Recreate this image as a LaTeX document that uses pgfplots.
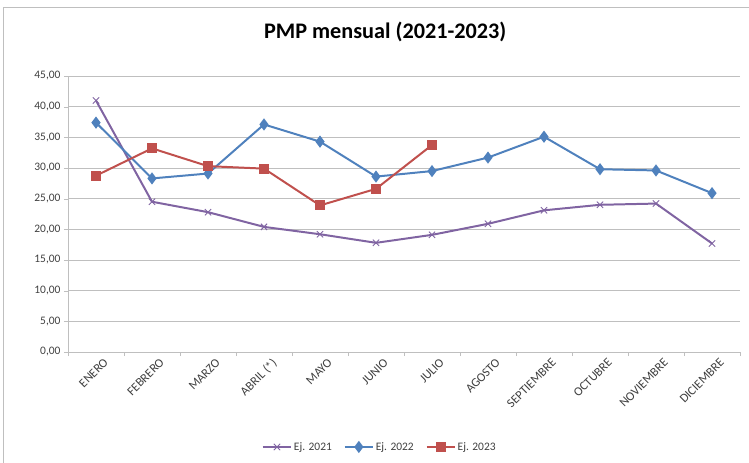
\documentclass[border=0pt]{standalone}
\usepackage{pgfplots}
\pgfplotsset{compat=1.18}
\usepackage{fontspec}
\setmainfont{Carlito}
\definecolor{c21}{HTML}{8064A2}
\definecolor{c22}{HTML}{4F81BD}
\definecolor{c23}{HTML}{C0504D}
\definecolor{gridc}{HTML}{BFBFBF}
\definecolor{txt}{HTML}{404040}
\begin{document}
\begin{tikzpicture}
\useasboundingbox (-68bp,-111bp) rectangle (681bp,352bp);
\draw[gridc] (-65bp,-111bp) -- (-65bp,345bp) -- (681bp,345bp);
\begin{axis}[
  at={(0,0)}, anchor=south west,
  scale only axis, width=672bp, height=276bp,
  xmin=-0.5, xmax=11.5, ymin=0, ymax=45,
  xtick={0,...,11},
  xticklabels={ENERO,FEBRERO,MARZO,ABRIL (*),MAYO,JUNIO,JULIO,AGOSTO,SEPTIEMBRE,OCTUBRE,NOVIEMBRE,DICIEMBRE},
  minor xtick={-0.5,0.5,...,11.5},
  ytick={0,5,...,45},
  axis x line*=bottom, axis y line*=left,
  axis line style={gridc,-},
  major x tick style={draw=none},
  minor x tick style={gridc},
  y tick style={gridc},
  tick align=outside,
  minor tick length=4bp, major tick length=4bp,
  ymajorgrids, major grid style={gridc, line width=0.8pt},
  x tick label style={rotate=45, anchor=north east, font=\fontsize{12.5}{14}\selectfont, text=txt, inner sep=1pt, yshift=-5bp, xshift=5bp},
  y tick label style={font=\fontsize{11.5}{13}\selectfont, text=txt},
  /pgf/number format/assume math mode=true,
  yticklabel={\pgfmathprintnumber[fixed,fixed zerofill,precision=2,use comma]{\tick}},
  title={\bfseries PMP mensual (2021-2023)},
  title style={at={(0.472,1)}, anchor=center, yshift=38bp, font=\fontsize{22.3}{26}\selectfont, text=black},
  legend columns=3,
  legend style={draw=none, at={(0.464,-0.344)}, anchor=center, font=\fontsize{11.5}{13}\selectfont, text=txt, /tikz/every even column/.append style={column sep=10bp}},
  legend image code/.code={\draw[#1] (0bp,0bp) -- (28bp,0bp); \draw[#1, mark repeat=2, mark phase=2] plot coordinates {(0bp,0bp) (14bp,0bp) (28bp,0bp)};},
]
\addplot[c21, line width=2pt, mark=x, mark size=4.5pt, mark options={line width=0.9pt}] coordinates {
(0,41.0) (1,24.5) (2,22.8) (3,20.4) (4,19.2) (5,17.8) (6,19.1) (7,20.9) (8,23.1) (9,24.0) (10,24.2) (11,17.7)};
\addlegendentry{Ej. 2021}
\addplot[c22, line width=2pt, mark=diamond*, mark size=4.5pt] coordinates {
(0,37.4) (1,28.3) (2,29.1) (3,37.1) (4,34.3) (5,28.6) (6,29.5) (7,31.7) (8,35.1) (9,29.8) (10,29.6) (11,25.9)};
\addlegendentry{Ej. 2022}
\addplot[c23, line width=2pt, mark=square*, mark size=4pt] coordinates {
(0,28.75) (1,33.2) (2,30.3) (3,29.9) (4,23.9) (5,26.6) (6,33.75)};
\addlegendentry{Ej. 2023}
\end{axis}
\end{tikzpicture}
\end{document}
